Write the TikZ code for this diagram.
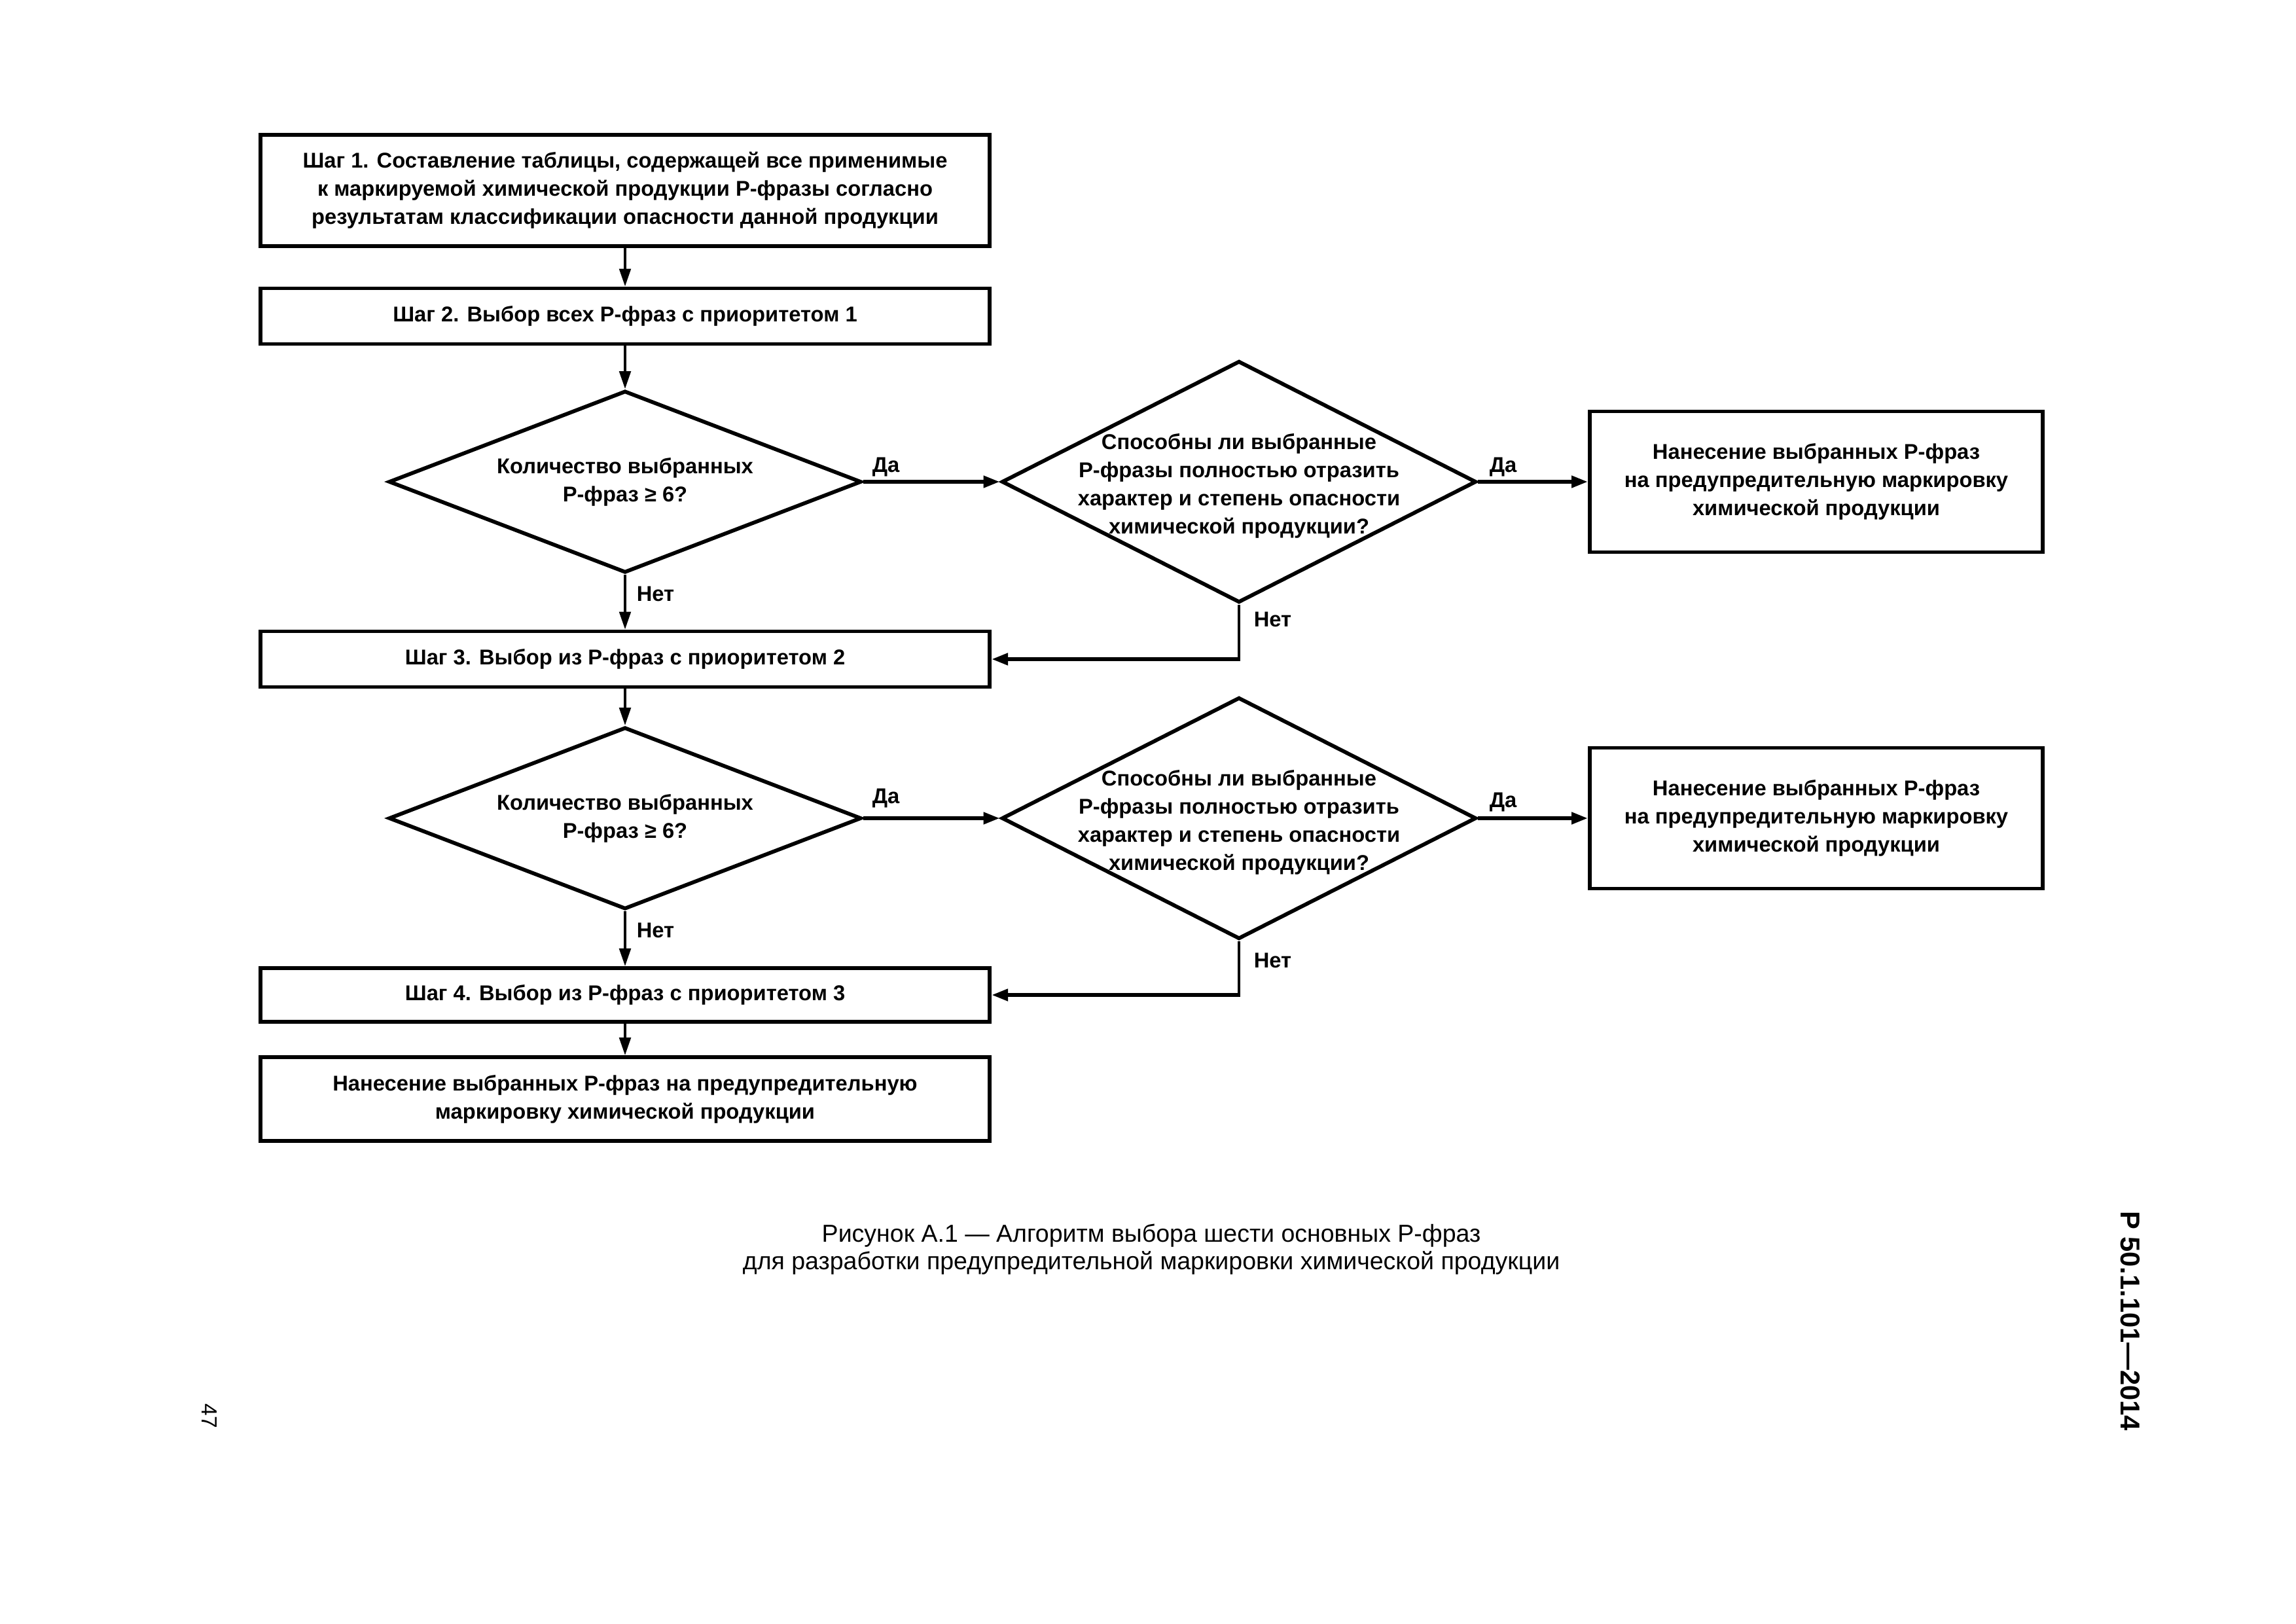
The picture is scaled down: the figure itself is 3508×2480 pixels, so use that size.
\documentclass[tikz,border=0pt]{standalone}
\usepackage{fontspec}
\setmainfont{Liberation Sans}
\usetikzlibrary{arrows.meta,shapes.geometric}
\newcommand\dtext{\fontsize{7.85}{10.32}\selectfont\bfseries}
\newcommand\ctext{\fontsize{9}{10.1}\selectfont}
\begin{document}
\begin{tikzpicture}[x=0.24pt,y=-0.24pt,
  stepbox/.style={draw, line width=1.4pt, minimum width=267.4pt, align=center, inner sep=0pt, font=\dtext},
  resbox/.style={draw, line width=1.4pt, minimum width=166.1pt, minimum height=51.6pt, align=center, inner sep=0pt, font=\dtext},
  dia/.style={draw, diamond, line width=1.4pt, inner sep=0pt},
  smalldia/.style={dia, minimum width=173.3pt, minimum height=66.7pt},
  bigdia/.style={dia, minimum width=174pt, minimum height=88.6pt},
  txt/.style={align=center, font=\dtext, inner sep=0pt},
  lbl/.style={font=\dtext, inner sep=0pt, anchor=base west},
  thinline/.style={line width=0.9pt},
  thinarrow/.style={line width=0.9pt, -{Triangle[length=6.5pt,width=4.2pt]}},
  thickarrow/.style={line width=1.4pt, -{Triangle[length=6pt,width=4.2pt]}}
]
\useasboundingbox (0,0) rectangle (3508,2480);

% row 0
\node[stepbox, minimum height=40.8pt] (s1) at (955,291) {Шаг 1. Составление таблицы, содержащей все применимые\\к маркируемой химической продукции Р-фразы согласно\\результатам классификации опасности данной продукции};
\node[stepbox, minimum height=20.4pt] (s2) at (955,483) {Шаг 2. Выбор всех Р-фраз с приоритетом 1};

% row 1
\node[smalldia] (d1) at (955,736) {};
\node[txt] (t1) at (d1.center) {Количество выбранных\\Р-фраз ≥ 6?};
\node[bigdia] (d2) at (1893,736) {};
\node[txt] (t2) at (1893,742) {Способны ли выбранные\\Р-фразы полностью отразить\\характер и степень опасности\\химической продукции?};
\node[resbox] (r1) at (2775,736) {Нанесение выбранных Р-фраз\\на предупредительную маркировку\\химической продукции};

\node[stepbox, minimum height=20.4pt] (s3) at (955,1007) {Шаг 3. Выбор из Р-фраз с приоритетом 2};

% row 2
\node[smalldia] (d3) at (955,1250) {};
\node[txt] (t3) at (d3.center) {Количество выбранных\\Р-фраз ≥ 6?};
\node[bigdia] (d4) at (1893,1250) {};
\node[txt] (t4) at (1893,1256) {Способны ли выбранные\\Р-фразы полностью отразить\\характер и степень опасности\\химической продукции?};
\node[resbox] (r2) at (2775,1250) {Нанесение выбранных Р-фраз\\на предупредительную маркировку\\химической продукции};

\node[stepbox, minimum height=19.7pt] (s4) at (955,1520) {Шаг 4. Выбор из Р-фраз с приоритетом 3};
\node[stepbox, minimum height=30.7pt] (s5) at (955,1679) {Нанесение выбранных Р-фраз на предупредительную\\маркировку химической продукции};

% connectors
\draw[thinarrow] (s1) -- (s2);
\draw[thinarrow] (s2) -- (d1);
\draw[thickarrow] (d1) -- (d2);
\draw[thickarrow] (d2) -- (r1);
\draw[thinarrow] (d1) -- (s3);
\coordinate (c1) at (d2.south |- s3.east);
\draw[thinline, shorten >=-0.7pt] (d2.south) -- (c1);
\draw[thickarrow] (c1) -- (s3.east);

\draw[thinarrow] (s3) -- (d3);
\draw[thickarrow] (d3) -- (d4);
\draw[thickarrow] (d4) -- (r2);
\draw[thinarrow] (d3) -- (s4);
\coordinate (c2) at (d4.south |- s4.east);
\draw[thinline, shorten >=-0.7pt] (d4.south) -- (c2);
\draw[thickarrow] (c2) -- (s4.east);
\draw[thinarrow] (s4) -- (s5);

% labels
\node[lbl] (y1) at (1332,721) {Да};
\node[lbl] (y2) at (2275,721) {Да};
\node[lbl] (n1) at (972,918) {Нет};
\node[lbl] (n2) at (1915,957) {Нет};
\node[lbl] (y3) at (1332,1227) {Да};
\node[lbl] (y4) at (2275,1233) {Да};
\node[lbl] (n3) at (972,1432) {Нет};
\node[lbl] (n4) at (1915,1478) {Нет};

% caption and page furniture
\node[align=center, font=\ctext, inner sep=0pt] (cap) at (1759,1909) {Рисунок А.1 — Алгоритм выбора шести основных Р-фраз\\для разработки предупредительной маркировки химической продукции};
\node[rotate=-90, font=\fontsize{10}{12}\selectfont\bfseries, inner sep=0pt] (hdr) at (3255,2018) {Р 50.1.101—2014};
\node[rotate=-90, font=\fontsize{8}{10}\selectfont, inner sep=0pt] (pg) at (320,2163) {47};
\end{tikzpicture}
\end{document}
